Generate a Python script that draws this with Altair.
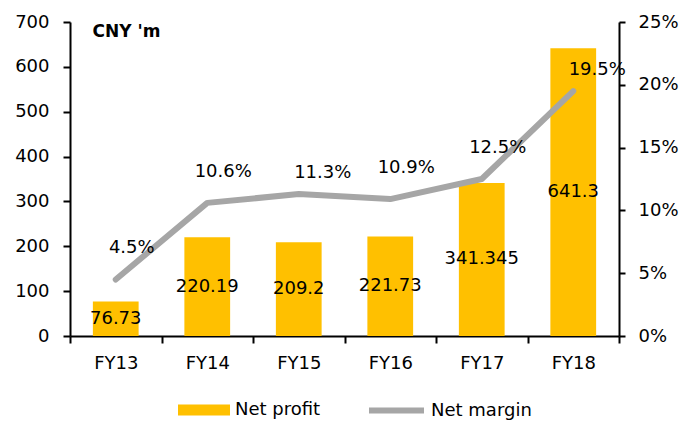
import altair as alt
import pandas as pd

years = ["FY13", "FY14", "FY15", "FY16", "FY17", "FY18"]
net_profit = [76.73, 220.19, 209.2, 221.73, 341.345, 641.3]
profit_labels = ["76.73", "220.19", "209.2", "221.73", "341.345", "641.3"]
net_margin = [0.045, 0.106, 0.113, 0.109, 0.125, 0.195]
margin_labels = ["4.5%", "10.6%", "11.3%", "10.9%", "12.5%", "19.5%"]
left_ticks = [0, 100, 200, 300, 400, 500, 600, 700]
right_ticks = [0, 0.05, 0.10, 0.15, 0.20, 0.25]

df = pd.DataFrame({
    "year": years,
    "profit": net_profit,
    "plabel": profit_labels,
    "margin": net_margin,
    "mlabel": margin_labels,
    "s1": ["Net profit"] * len(years),
    "s2": ["Net margin"] * len(years),
})

FONT = "DejaVu Sans"
BAR = "#FFC000"
LINE = "#A6A6A6"

x_scale = alt.Scale(paddingInner=0, paddingOuter=0)
x_enc = alt.X(
    "year:N", sort=years, scale=x_scale,
    axis=alt.Axis(title=None, labelAngle=0, tickBand="extent", labelPadding=11),
)
x_plain = alt.X("year:N", sort=years, scale=x_scale)

yl_scale = alt.Scale(domain=[0, 700], nice=False)
yr_scale = alt.Scale(domain=[0, 0.25], nice=False)

bars = alt.Chart(df).mark_bar(width=alt.RelativeBandSize(0.5)).encode(
    x=x_enc,
    y=alt.Y("profit:Q", scale=yl_scale,
            axis=alt.Axis(values=left_ticks, title="CNY 'm", titleAngle=0,
                          titleAlign="left", titleBaseline="alphabetic",
                          titleX=22, titleY=14, titleFontWeight="bold",
                          titleFontSize=17, titleFont=FONT, titleColor="black",
                          labelPadding=14)),
    fill=alt.Fill("s1:N", scale=alt.Scale(domain=["Net profit"], range=[BAR]),
                  legend=alt.Legend(orient="none", legendX=108, legendY=362,
                                    title=None, padding=0,
                                    symbolType="M-1,-0.21H1V0.21H-1Z",
                                    symbolSize=2704, symbolStrokeWidth=0,
                                    labelOffset=5, labelFontSize=18,
                                    labelFont=FONT, labelColor="black")),
)

bar_text = alt.Chart(df).transform_calculate(mid="datum.profit / 2").mark_text(
    baseline="middle", fontSize=18, font=FONT, color="black"
).encode(
    x=x_plain,
    y=alt.Y("mid:Q", scale=yl_scale),
    text="plabel:N",
)

line = alt.Chart(df).mark_line(strokeWidth=6, strokeCap="round", strokeJoin="round").encode(
    x=x_plain,
    y=alt.Y("margin:Q", scale=yr_scale,
            axis=alt.Axis(values=right_ticks, format=".0%", title=None,
                          orient="right", tickSize=6, labelPadding=13)),
    stroke=alt.Stroke("s2:N", scale=alt.Scale(domain=["Net margin"], range=[LINE]),
                      legend=alt.Legend(orient="none", legendX=296, legendY=358,
                                        title=None, padding=0,
                                        symbolType="stroke", symbolSize=3025,
                                        symbolStrokeWidth=6,
                                        labelOffset=4, labelFontSize=18,
                                        labelFont=FONT, labelColor="black")),
)

m_text_a = alt.Chart(df).transform_filter(
    "datum.year != 'FY15' && datum.year != 'FY18'"
).mark_text(dx=16, dy=-31, baseline="middle", fontSize=18, font=FONT, color="black").encode(
    x=x_plain,
    y=alt.Y("margin:Q", scale=yr_scale),
    text="mlabel:N",
)
m_text_b = alt.Chart(df).transform_filter(
    "datum.year == 'FY15' || datum.year == 'FY18'"
).mark_text(dx=24, dy=-21, baseline="middle", fontSize=18, font=FONT, color="black").encode(
    x=x_plain,
    y=alt.Y("margin:Q", scale=yr_scale),
    text="mlabel:N",
)

left = alt.layer(bars, bar_text)
right = alt.layer(line, m_text_a, m_text_b)

chart = alt.layer(left, right).resolve_scale(
    y="independent", fill="independent", stroke="independent"
).properties(
    width=549, height=314,
    autosize=alt.AutoSizeParams(type="none"),
    padding={"left": 62, "top": 14, "right": 61, "bottom": 86},
).configure_view(stroke=None).configure_axis(
    grid=False, domainColor="black", domainWidth=2, tickColor="black",
    tickWidth=2, tickSize=7, labelFont=FONT, labelFontSize=18,
    labelColor="black",
)

chart.save("out.html", embed_options={"renderer": "svg", "actions": False})
